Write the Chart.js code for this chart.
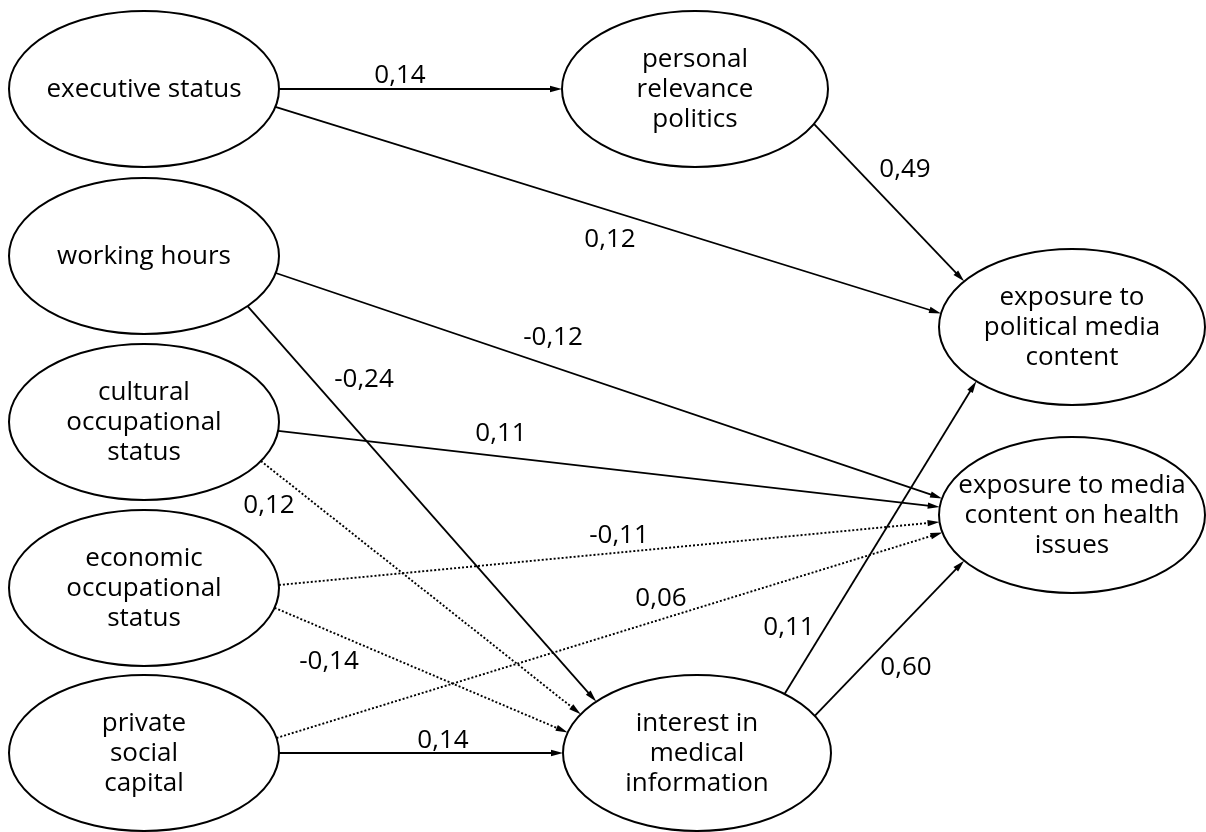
<!DOCTYPE html>
<html>
<head>
<meta charset="utf-8">
<script src="https://cdn.jsdelivr.net/npm/chart.js@4.4.1/dist/chart.umd.min.js"></script>
<style>
html, body { margin: 0; padding: 0; background: #fff; }
#wrap { width: 1206px; height: 832px; position: relative; }
</style>
</head>
<body>
<div id="wrap"><canvas id="pathChart"></canvas></div>
<script>
// model variables
const nodeIds = ['exec', 'hours', 'cultural', 'economic', 'private', 'personal', 'interest', 'expPol', 'expHealth'];
const nodeLabels = [
    ['executive status'],
    ['working hours'],
    ['cultural', 'occupational', 'status'],
    ['economic', 'occupational', 'status'],
    ['private', 'social', 'capital'],
    ['personal', 'relevance', 'politics'],
    ['interest in', 'medical', 'information'],
    ['exposure to', 'political media', 'content'],
    ['exposure to media', 'content on health', 'issues']
];

// paths and standardized coefficients
const pathFrom = ['exec', 'exec', 'personal', 'hours', 'hours', 'cultural', 'cultural', 'economic', 'economic', 'private', 'private', 'interest', 'interest'];
const pathTo = ['personal', 'expPol', 'expPol', 'expHealth', 'interest', 'expHealth', 'interest', 'expHealth', 'interest', 'expHealth', 'interest', 'expPol', 'expHealth'];
const pathCoef = [0.14, 0.12, 0.49, -0.12, -0.24, 0.11, 0.12, -0.11, -0.14, 0.06, 0.14, 0.11, 0.60];
const pathSolid = [true, true, true, true, true, true, false, false, false, false, true, true, true];

// layout (diagram units = pixels)
const layout = {
    nodes: {
        exec: [144, 89, 135, 78],
        hours: [144, 256, 135, 78],
        cultural: [144, 422, 135, 78],
        economic: [144, 588, 135, 78],
        private: [144, 753, 135, 78],
        personal: [695, 89, 133, 78],
        interest: [697, 753, 134, 78],
        expPol: [1072, 327, 133, 78],
        expHealth: [1072, 515, 133, 78]
    },
    // where each path leaves / enters its ellipse (degrees, y down)
    anchors: [[0, 180], [13.3, 190], [26.6, 215.8], [12.6, 192.3], [39.9, 221.2], [6.6, 185.9], [30, 209.8],
        [357.8, 174.9], [14.7, 195.2], [348.9, 167], [0, 180], [310.8, 136], [331.5, 144.2]],
    labels: [[400, 76], [610, 240], [905, 170], [553, 338], [364, 380], [501, 434], [269, 506],
        [619, 536], [329, 662], [661, 599], [443, 741], [789, 628], [906, 668]]
};

const FONT = '26px "Open Sans", sans-serif';
const ARROW_LEN = 12;
const ARROW_HALF = 3.2;

function anchorPoint(id, deg) {
    const n = layout.nodes[id];
    const t = deg * Math.PI / 180;
    return { x: n[0] + n[2] * Math.cos(t), y: n[1] + n[3] * Math.sin(t) };
}

const ends = pathFrom.map((f, i) => {
    const a = anchorPoint(f, layout.anchors[i][0]);
    const b = anchorPoint(pathTo[i], layout.anchors[i][1]);
    return [a, b];
});

const datasets = ends.map((e, i) => {
    const a = e[0], b = e[1];
    const len = Math.hypot(b.x - a.x, b.y - a.y);
    const k = (len - ARROW_LEN + 2) / len;
    return {
        label: pathFrom[i] + ' -> ' + pathTo[i],
        data: [a, { x: a.x + (b.x - a.x) * k, y: a.y + (b.y - a.y) * k }],
        showLine: true,
        borderColor: '#000',
        borderWidth: pathSolid[i] ? 1.8 : 1.9,
        borderDash: pathSolid[i] ? [] : [2, 2],
        pointRadius: 0,
        fill: false
    };
});

const diagramPlugin = {
    id: 'diagram',
    afterDatasetsDraw(chart) {
        const ctx = chart.ctx;
        const xs = chart.scales.x, ys = chart.scales.y;
        const px = v => xs.getPixelForValue(v);
        const py = v => ys.getPixelForValue(v);
        ctx.save();

        // ellipses and their texts
        nodeIds.forEach((id, i) => {
            const n = layout.nodes[id];
            const cx = px(n[0]), cy = py(n[1]);
            const rx = Math.abs(px(n[0] + n[2]) - cx), ry = Math.abs(py(n[1] + n[3]) - cy);
            ctx.beginPath();
            ctx.ellipse(cx, cy, rx, ry, 0, 0, Math.PI * 2);
            ctx.lineWidth = 2;
            ctx.strokeStyle = '#000';
            ctx.stroke();
            ctx.fillStyle = '#000';
            ctx.font = FONT;
            ctx.textAlign = 'center';
            ctx.textBaseline = 'middle';
            const lines = nodeLabels[i];
            lines.forEach((s, j) => {
                ctx.fillText(s, cx, cy + 1 + (j - (lines.length - 1) / 2) * 30);
            });
        });

        // arrow heads
        ends.forEach(e => {
            const ax = px(e[0].x), ay = py(e[0].y), bx = px(e[1].x), by = py(e[1].y);
            const ang = Math.atan2(by - ay, bx - ax);
            ctx.save();
            ctx.translate(bx, by);
            ctx.rotate(ang);
            ctx.beginPath();
            ctx.moveTo(0, 0);
            ctx.lineTo(-ARROW_LEN, -ARROW_HALF);
            ctx.lineTo(-ARROW_LEN, ARROW_HALF);
            ctx.closePath();
            ctx.fillStyle = '#000';
            ctx.fill();
            ctx.restore();
        });

        // coefficients
        ctx.font = FONT;
        ctx.textAlign = 'center';
        ctx.textBaseline = 'middle';
        ctx.fillStyle = '#000';
        pathCoef.forEach((c, i) => {
            const p = layout.labels[i];
            ctx.fillText(c.toFixed(2).replace('.', ','), px(p[0]), py(p[1]));
        });
        ctx.restore();
    }
};

const ctx = document.getElementById('pathChart').getContext('2d');

const pathChart = new Chart(ctx, {
    type: 'scatter',
    data: { datasets: datasets },
    options: {
        responsive: true,
        maintainAspectRatio: false,
        animation: false,
        events: [],
        layout: { padding: 0 },
        scales: {
            x: { type: 'linear', min: 0, max: 1206, display: false },
            y: { type: 'linear', min: 0, max: 832, reverse: true, display: false }
        },
        plugins: {
            legend: { display: false },
            tooltip: { enabled: false }
        }
    },
    plugins: [diagramPlugin]
});
</script>
</body>
</html>
